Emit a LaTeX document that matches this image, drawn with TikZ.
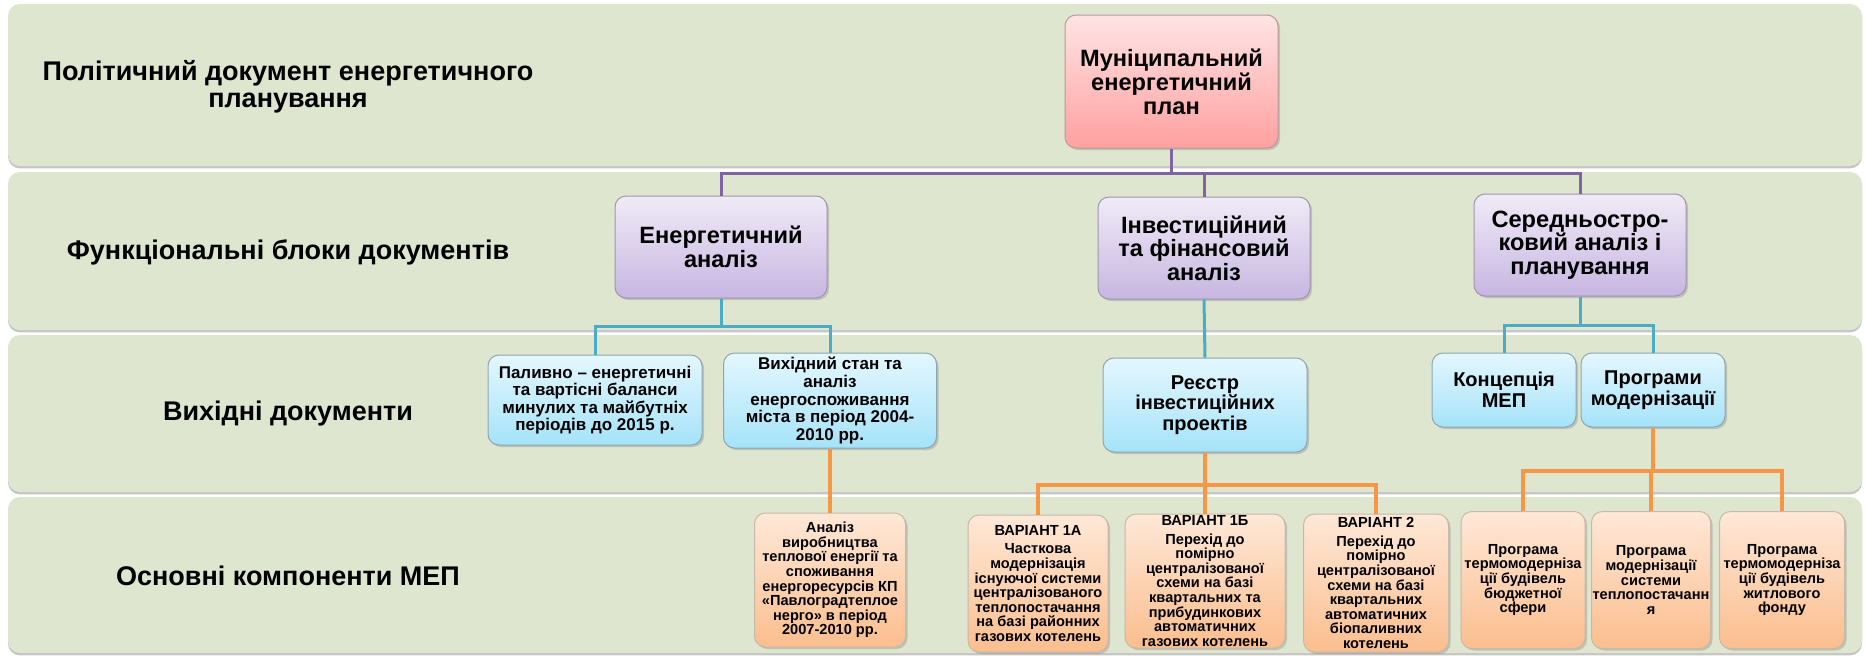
\documentclass[tikz,border=0pt]{standalone}
\usepackage{fontspec}
\setmainfont{Liberation Sans}
\usetikzlibrary{shadows}
\definecolor{bandc}{RGB}{222,230,208}
\definecolor{pinkt}{RGB}{255,228,228}
\definecolor{pinkb}{RGB}{255,160,160}
\definecolor{pinkd}{RGB}{190,150,150}
\definecolor{purt}{RGB}{240,235,247}
\definecolor{purb}{RGB}{199,182,225}
\definecolor{purd}{RGB}{160,148,175}
\definecolor{blut}{RGB}{228,247,254}
\definecolor{blub}{RGB}{165,227,249}
\definecolor{blud}{RGB}{140,165,178}
\definecolor{orat}{RGB}{254,232,216}
\definecolor{orab}{RGB}{251,190,142}
\definecolor{orad}{RGB}{200,184,168}
\definecolor{linep}{RGB}{128,100,162}
\definecolor{linec}{RGB}{75,172,198}
\definecolor{lineo}{RGB}{247,150,70}
\tikzset{
  band/.style={fill=bandc, rounded corners=6pt,
    drop shadow={shadow xshift=0pt, shadow yshift=-1.2pt, opacity=0.45, fill=gray}},
  bandlabel/.style={align=center, font=\bfseries\fontsize{13.5}{13.3}\selectfont},
  box/.style={rounded corners=5.5pt, align=center, inner sep=1pt, line width=0.5pt,
    drop shadow={shadow xshift=1pt, shadow yshift=-1pt, opacity=0.35}},
  pinkbox/.style={box, top color=pinkt, bottom color=pinkb, draw=pinkd,
    font=\bfseries\fontsize{11.8}{12}\selectfont},
  purbox/.style={box, top color=purt, bottom color=purb, draw=purd,
    minimum width=106pt, minimum height=51pt,
    font=\bfseries\fontsize{11.8}{11.8}\selectfont},
  blubox/.style={box, top color=blut, bottom color=blub, draw=blud},
  orabox/.style={box, top color=orat, bottom color=orab, draw=orad, inner sep=0pt,
    font=\bfseries\fontsize{7.3}{7.3}\selectfont},
  pline/.style={draw=linep, line width=1.5pt},
  cline/.style={draw=linec, line width=1.5pt},
  oline/.style={draw=lineo, line width=2pt},
}
\begin{document}
\begin{tikzpicture}[x=0.5pt,y=-0.5pt]
\useasboundingbox[fill=white] (0,0) rectangle (1865,655);
% bands
\path[band] (8,4) rectangle (1862,166);
\path[band] (8,172) rectangle (1862,330);
\path[band] (8,335) rectangle (1862,492);
\path[band] (8,497) rectangle (1862,653);
% band labels
\node[bandlabel] (lab1) at (288,87) {Політичний документ енергетичного\\планування};
\node[bandlabel] (lab2) at (288,252) {Функціональні блоки документів};
\node[bandlabel] (lab3) at (288,414) {Вихідні документи};
\node[bandlabel] (lab4) at (288,576) {Основні компоненти МЕП};
% level 1
\node[pinkbox, minimum width=106.5pt, minimum height=66.5pt] (pink) at (1171.5,81.5)
  {Муніципальний\\енергетичний\\план};
% level 2
\node[purbox] (en) at (721,247) {Енергетичний\\аналіз};
\node[purbox] (inv) at (1204,248) {Інвестиційний\\та фінансовий\\аналіз};
\node[purbox] (ser) at (1580,245) {Середньостро-\\ковий аналіз і\\планування};
% level 3
\node[blubox, minimum width=107pt, minimum height=45pt,
  font=\bfseries\fontsize{8.5}{8.8}\selectfont] (pal) at (595,400)
  {Паливно – енергетичні\\та вартісні баланси\\минулих та майбутніх\\періодів до 2015 р.};
\node[blubox, minimum width=106.5pt, minimum height=47.5pt,
  font=\bfseries\fontsize{8.5}{8.8}\selectfont] (vyh) at (830,400.5)
  {Вихідний стан та\\аналіз\\енергоспоживання\\міста в період 2004-\\2010 рр.};
\node[blubox, minimum width=102pt, minimum height=47pt,
  font=\bfseries\fontsize{10}{10.4}\selectfont] (reestr) at (1205,405)
  {Реєстр\\інвестиційних\\проектів};
\node[blubox, minimum width=72pt, minimum height=37pt,
  font=\bfseries\fontsize{10}{10.5}\selectfont] (konc) at (1504,390)
  {Концепція\\МЕП};
\node[blubox, minimum width=72pt, minimum height=37pt,
  font=\bfseries\fontsize{10}{10.5}\selectfont] (prog) at (1653,390)
  {Програми\\модернізації};
% level 4
\node[orabox, minimum width=75.5pt, minimum height=67pt] (an) at (830,580)
  {Аналіз\\виробництва\\теплової енергії та\\споживання\\енергоресурсів КП\\«Павлоградтеплое\\нерго» в період\\2007-2010 рр.};
\node[orabox, minimum width=70pt, minimum height=68.5pt] (v1a) at (1038,583.5)
  {ВАРІАНТ 1А\\[2pt]Часткова\\модернізація\\існуючої системи\\централізованого\\теплопостачання\\на базі районних\\газових котелень};
\node[orabox, minimum width=80pt, minimum height=67pt] (v1b) at (1205,581)
  {ВАРІАНТ 1Б\\[2pt]Перехід до\\помірно\\централізованої\\схеми на базі\\квартальних та\\прибудинкових\\автоматичних\\газових котелень};
\node[orabox, minimum width=72.5pt, minimum height=69pt] (v2) at (1376,583)
  {ВАРІАНТ 2\\[2pt]Перехід до\\помірно\\централізованої\\схеми на базі\\квартальних\\автоматичних\\біопаливних\\котелень};
\node[orabox, minimum width=62pt, minimum height=68.5pt] (p1) at (1523,580)
  {Програма\\термомодерніза\\ції будівель\\бюджетної\\сфери};
\node[orabox, minimum width=59.5pt, minimum height=68.5pt] (p2) at (1651,580)
  {Програма\\модернізації\\системи\\теплопостачанн\\я};
\node[orabox, minimum width=62.5pt, minimum height=68.5pt] (p3) at (1782,580)
  {Програма\\термомодерніза\\ції будівель\\житлового\\фонду};
% connectors
\coordinate (pj) at (1171.5,173);
\draw[pline] (pink.south) -- (pj);
\draw[pline] (en.north) |- (pj) -| (ser.north);
\draw[pline] (inv.north) -- (inv.north |- pj);
\coordinate (cj1) at (721,326);
\draw[cline] (en.south) -- (cj1);
\draw[cline] (pal.north) |- (cj1) -| (vyh.north);
\draw[cline] (inv.south) -- (reestr.north);
\coordinate (cj2) at (1580,325);
\draw[cline] (ser.south) -- (cj2);
\draw[cline] (konc.north) |- (cj2) -| (prog.north);
\draw[oline] (vyh.south) -- (an.north);
\coordinate (oj1) at (1205,485);
\draw[oline] (reestr.south) -- (oj1);
\draw[oline] (v1a.north) |- (oj1) -| (v2.north);
\draw[oline] (v1b.north) -- (v1b.north |- oj1);
\coordinate (oj2) at (1653,471);
\draw[oline] (prog.south) -- (oj2);
\draw[oline] (p1.north) |- (oj2) -| (p3.north);
\draw[oline] (p2.north) -- (p2.north |- oj2);
\end{tikzpicture}
\end{document}
